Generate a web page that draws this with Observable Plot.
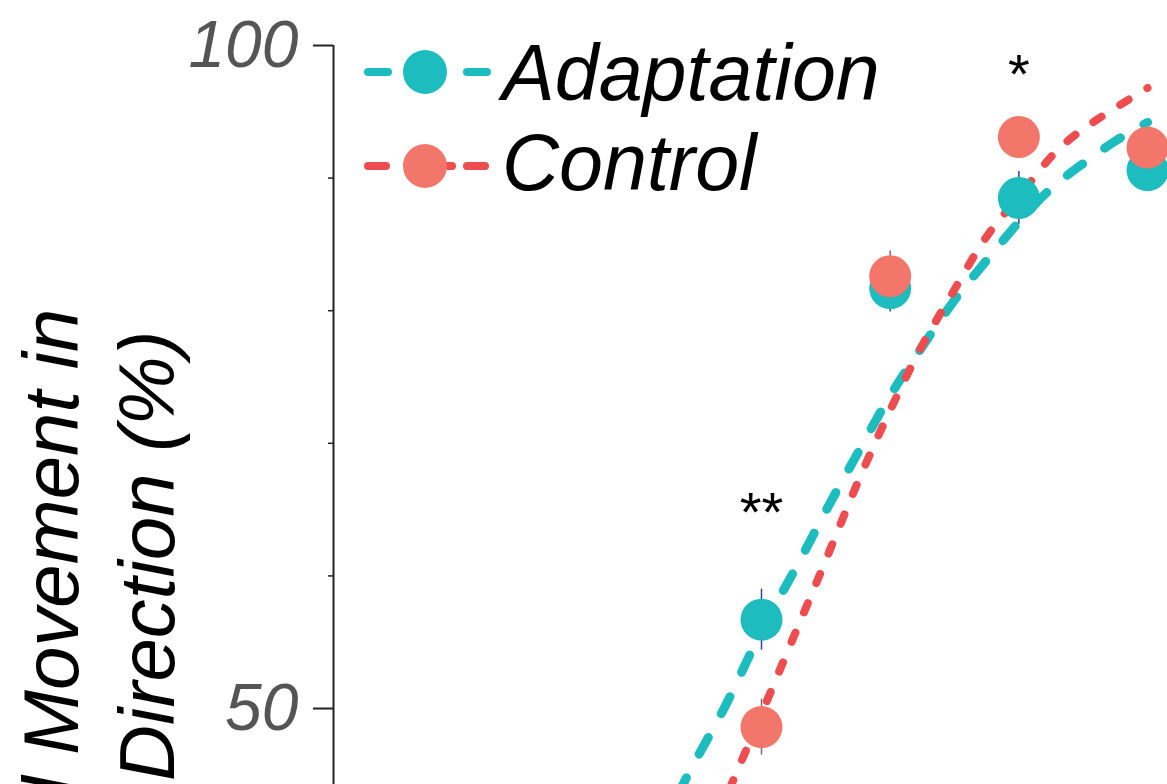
<!DOCTYPE html>
<html><head><meta charset="utf-8">
<script src="https://cdn.jsdelivr.net/npm/d3@7"></script>
<script src="https://cdn.jsdelivr.net/npm/@observablehq/plot@0.6"></script>
<style>
html,body{margin:0;padding:0;background:#fff;overflow:hidden;}
#wrap{position:relative;width:1167px;height:784px;overflow:hidden;}
#legend{position:absolute;left:0;top:0;pointer-events:none;}
</style></head><body><div id="wrap"></div>
<script>
// ---- data ----
const seriesNames = ["Adaptation", "Control"];
const levels = [4, 5, 6, 7];
const adaptation = [56.7, 81.7, 88.5, 90.6];
const adaptationSE = [2.3, 1.8, 2.0, 1.0];
const control = [48.6, 82.6, 93.1, 92.3];
const controlSE = [2.1, 1.9, 1.2, 1.0];

const adaptationFitLevels = [3.35, 3.5, 3.75, 4, 4.25, 4.5, 4.75, 5, 5.25, 5.5, 5.75, 6, 6.25, 6.5, 6.75, 7];
const adaptationFit =       [43.5, 46.3, 50.8, 55.9, 60.3, 64.9, 69.3, 73.6, 77.3, 80.8, 83.8, 86.7, 89.2, 91.1, 92.8, 94.2];
const controlFitLevels = [3.75, 3.9, 4, 4.25, 4.5, 4.75, 5, 5.25, 5.5, 5.75, 6, 6.25, 6.5, 6.75, 7];
const controlFit =       [43.9, 47.3, 49.6, 55.4, 61.2, 67.1, 72.5, 77.4, 81.6, 85.6, 88.6, 91.6, 93.7, 95.3, 96.8];

const sigLevels = [4, 6];
const sigLabels = ["**", "*"];
const sigY = [63.4, 96.4];

const majorTicks = [50, 100];
const minorTicks = [60, 70, 80, 90];
const yLabelLines = ["Perceived Movement in", "Adapted Direction (%)"];

// ---- styles ----
const teal = "#1CBCBF";
const redPoint = "#F3766B";
const redLine = "#EE4D50";
const font = "'Liberation Sans', Arial, Helvetica, sans-serif";

const pts = levels.map((l, i) => ({level: l, a: adaptation[i], aSE: adaptationSE[i], c: control[i], cSE: controlSE[i]}));
const aFit = adaptationFitLevels.map((l, i) => ({level: l, v: adaptationFit[i]}));
const cFit = controlFitLevels.map((l, i) => ({level: l, v: controlFit[i]}));
const sig = sigLevels.map((l, i) => ({level: l, y: sigY[i], label: sigLabels[i]}));

const xDomain = [0.674, 7.155];
const yDomain = [44.27, 100];

const chart = Plot.plot({
  width: 1167, height: 784,
  marginLeft: 333, marginRight: 0, marginTop: 45, marginBottom: 0,
  style: {fontFamily: font, background: "white", overflow: "visible"},
  x: {domain: xDomain, axis: null},
  y: {domain: yDomain},
  marks: [
    Plot.ruleX([xDomain[0]], {stroke: "#222", strokeWidth: 2}),
    Plot.axisY({ticks: majorTicks, tickSize: 20, tickFormat: () => "", stroke: "#222", strokeWidth: 2}),
    Plot.axisY({ticks: minorTicks, tickSize: 5, tickFormat: () => "", stroke: "#222", strokeWidth: 1.5}),
    Plot.axisY({ticks: majorTicks, tickSize: 0, tickPadding: 35, tickFormat: d => String(d), fontSize: 66, fontStyle: "italic", fill: "#555"}),
    Plot.text([yLabelLines[0]], {frameAnchor: "top-left", rotate: -90, textAnchor: "end", lineAnchor: "bottom", dx: -256, dy: 263, fontSize: 78, fontStyle: "italic", fill: "black"}),
    Plot.text([yLabelLines[1]], {frameAnchor: "top-left", rotate: -90, textAnchor: "end", lineAnchor: "bottom", dx: -160, dy: 285, fontSize: 78, fontStyle: "italic", fill: "black"}),
    Plot.ruleX(pts, {x: "level", y1: d => d.a - d.aSE, y2: d => d.a + d.aSE, stroke: "#34409a", strokeWidth: 1.5}),
    Plot.ruleX(pts, {x: "level", y1: d => d.c - d.cSE, y2: d => d.c + d.cSE, stroke: "#6b6b8a", strokeWidth: 1.5}),
    Plot.line(aFit, {x: "level", y: "v", curve: "natural", stroke: teal, strokeWidth: 9, strokeDasharray: "19,27", strokeLinecap: "round", clip: true}),
    Plot.line(cFit, {x: "level", y: "v", curve: "natural", stroke: redLine, strokeWidth: 8, strokeDasharray: "10,22", strokeLinecap: "round", clip: true}),
    Plot.dot(pts, {x: "level", y: "a", r: 21, fill: teal}),
    Plot.dot(pts, {x: "level", y: "c", r: 21, fill: redPoint}),
    Plot.text(sig, {x: "level", y: "y", text: "label", fontSize: 56, lineAnchor: "bottom", fill: "black"})
  ]
});
document.getElementById("wrap").appendChild(chart);

// ---- legend (inside the panel, top-left) ----
const leg = d3.select("#wrap").append("svg").attr("id", "legend").attr("width", 1167).attr("height", 784);
const rows = [
  {name: seriesNames[0], line: teal, dot: teal, cy: 72, base: 100, segs: [[368, 388], [467, 487]]},
  {name: seriesNames[1], line: redLine, dot: redPoint, cy: 166, base: 190, segs: [[368, 386], [437, 452], [467, 485]]}
];
rows.forEach(r => {
  r.segs.forEach(s => leg.append("line").attr("x1", s[0]).attr("x2", s[1]).attr("y1", r.cy).attr("y2", r.cy)
    .attr("stroke", r.line).attr("stroke-width", 8).attr("stroke-linecap", "round"));
  leg.append("circle").attr("cx", 425).attr("cy", r.cy).attr("r", 22).attr("fill", r.dot);
  leg.append("text").attr("x", 502).attr("y", r.base).attr("font-family", font).attr("font-size", 79)
    .attr("font-style", "italic").attr("fill", "black").text(r.name);
});
</script></body></html>
